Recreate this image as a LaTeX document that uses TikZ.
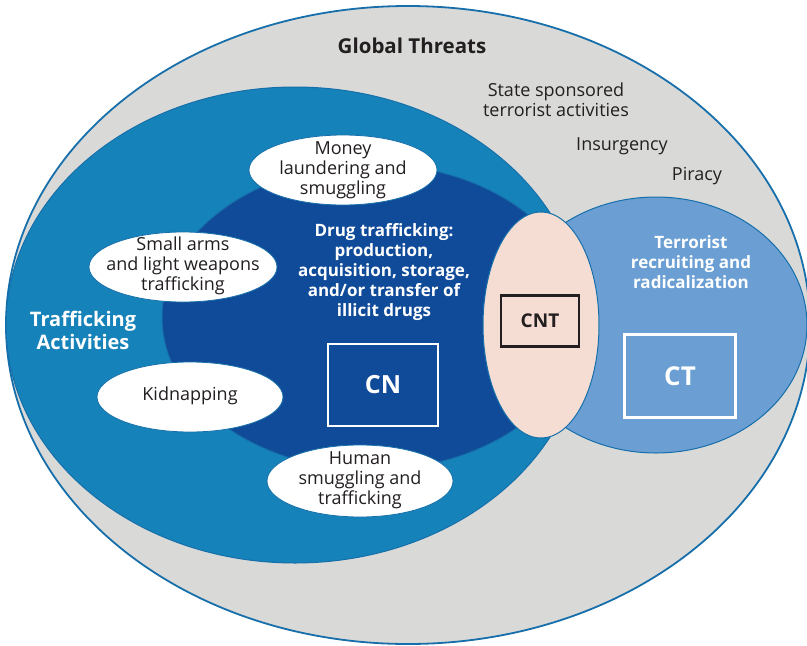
\documentclass[tikz,border=0pt]{standalone}
\usepackage{fontspec}
\setmainfont{Open Sans}
\usetikzlibrary{shapes.geometric}
\definecolor{greyfill}{RGB}{217,217,216}
\definecolor{rimblue}{RGB}{22,111,170}
\definecolor{trafblue}{RGB}{21,131,185}
\definecolor{cnblue}{RGB}{16,75,153}
\definecolor{ctblue}{RGB}{107,159,211}
\definecolor{cntpink}{RGB}{245,221,211}
\definecolor{ink}{RGB}{35,31,32}
\begin{document}
\begin{tikzpicture}[x=1pt,y=-1pt,
  zone/.style={ellipse,draw=rimblue,line width=1pt,inner sep=0pt},
  bubble/.style={ellipse,draw=rimblue,fill=white,line width=0.8pt,inner sep=0pt,minimum width=188pt,minimum height=70pt},
  txt/.style={align=center,text=ink,font=\fontsize{18}{20}\selectfont},
  head/.style={align=center,text=white,font=\bfseries\fontsize{17}{20}\selectfont},
  tag/.style={draw=white,line width=2.3pt,text=white,font=\bfseries\fontsize{25}{25}\selectfont}]
\useasboundingbox (0,0) rectangle (807,646);
% the rings
\node[zone,fill=greyfill,line width=1.8pt,minimum width=804pt,minimum height=638pt] (world) at (408,325) {};
\node[zone,fill=trafblue,minimum width=578pt,minimum height=476pt] (traf) at (295,325) {};
\node[zone,fill=ctblue,minimum width=302pt,minimum height=256pt] (ctzone) at (656,325) {};
\node[zone,fill=cnblue,minimum width=420pt,minimum height=306pt] (cnzone) at (372,317) {};

% the bubbles
\node[bubble] (money) at (343,170) {};
\node[bubble] (arms) at (183,267) {};
\node[bubble,minimum width=186pt] (kidnap) at (190,397) {};
\node[bubble,minimum width=186pt,minimum height=72pt] (human) at (360,481) {};
\node[zone,fill=cntpink,minimum width=116pt,minimum height=226pt] (cntzone) at (541,325) {};

% boxes
\node[tag,minimum width=110pt,minimum height=82pt] (cn) at (383,385) {CN};
\node[tag,minimum width=111pt,minimum height=83pt,font=\bfseries\fontsize{26}{26}\selectfont] (ct) at (680,376) {CT};
\node[tag,draw=ink,text=ink,minimum width=78pt,minimum height=51pt,font=\bfseries\fontsize{19}{19}\selectfont] (cnt) at (540,321) {CNT};

% labels
\node[txt,font=\bfseries\fontsize{20.5}{22}\selectfont] (global) at (412,46) {Global Threats};
\node[txt] (state) at (556,100) {State sponsored\\terrorist activities};
\node[txt] (insurg) at (622,146) {Insurgency};
\node[txt] (piracy) at (697,176) {Piracy};
\node[head] (terror) at (691,262) {Terrorist\\recruiting and\\radicalization};
\node[head,font=\bfseries\fontsize{20}{23}\selectfont] (traftxt) at (83,330) {Trafficking\\Activities};
\node[head] (drug) at (384,272) {Drug trafficking:\\production,\\acquisition, storage,\\and/or transfer of\\illicit drugs};
\node[txt] (moneytxt) at (343,170) {Money\\laundering and\\smuggling};
\node[txt] (armstxt) at (183,266) {Small arms\\and light weapons\\trafficking};
\node[txt] (kidnaptxt) at (190,396) {Kidnapping};
\node[txt] (humantxt) at (360,480) {Human\\smuggling and\\trafficking};
\end{tikzpicture}
\end{document}
